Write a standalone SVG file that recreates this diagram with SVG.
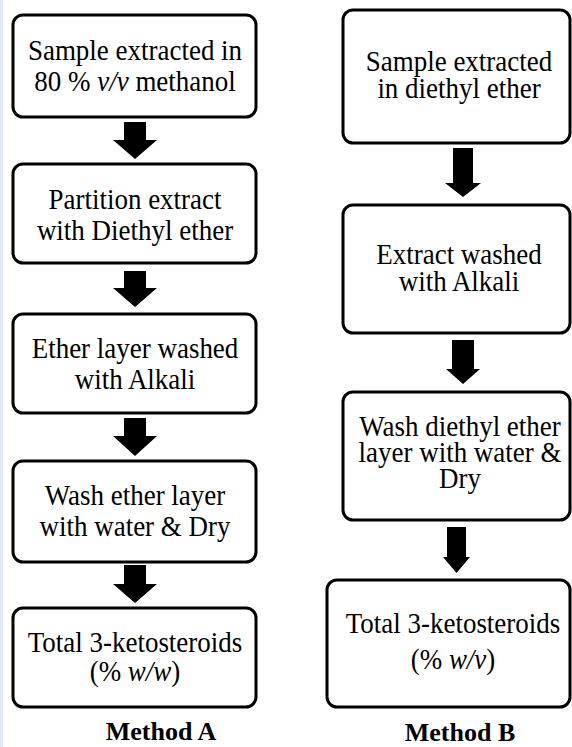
<svg xmlns="http://www.w3.org/2000/svg" width="572" height="747" viewBox="0 0 572 747">
<style>
.box{fill:#fff;stroke:#000;stroke-width:3}
.t{font-family:'Liberation Serif','DejaVu Serif',serif;font-size:29px;text-anchor:middle;fill:#000}
.i{font-style:italic}
.lbl{font-family:'Liberation Serif','DejaVu Serif',serif;font-size:26px;font-weight:bold;text-anchor:middle;fill:#000}
.arr{fill:#000}
</style>
<rect x="0" y="0" width="572" height="747" fill="#fff"/>
<rect x="0" y="0" width="3" height="747" fill="#dfe8f5"/>

<g id="connectors">
<polygon class="arr" points="124,122 146,122 146,140 157,140 135,159 113,140 124,140"/>
<polygon class="arr" points="124,271 146,271 146,288 157,288 135,307 113,288 124,288"/>
<polygon class="arr" points="124,418 146,418 146,436 157,436 135,456 113,436 124,436"/>
<polygon class="arr" points="124,565 146,565 146,584 157,584 135,603 113,584 124,584"/>
<polygon class="arr" points="453,148 473,148 473,183 481,183 463,197 445,183 453,183"/>
<polygon class="arr" points="452,340 474,340 474,369 480,369 463,384 446,369 452,369"/>
<polygon class="arr" points="447,527 466,527 466,557 470,557 456.5,573 443,557 447,557"/>
</g>

<g id="a1">
<rect class="box" x="13" y="15" width="243" height="102" rx="10"/>
<text class="t" transform="translate(135 60) scale(0.93 1)">Sample extracted in</text>
<text class="t" transform="translate(135 91) scale(0.93 1)">80 % <tspan class="i">v/v</tspan> methanol</text>
</g>
<g id="a2">
<rect class="box" x="13" y="164" width="243" height="99" rx="10"/>
<text class="t" transform="translate(135 209) scale(0.93 1)">Partition extract</text>
<text class="t" transform="translate(135 240) scale(0.93 1)">with Diethyl ether</text>
</g>
<g id="a3">
<rect class="box" x="13" y="314" width="243" height="99" rx="10"/>
<text class="t" transform="translate(135 358) scale(0.93 1)">Ether layer washed</text>
<text class="t" transform="translate(135 389) scale(0.93 1)">with Alkali</text>
</g>
<g id="a4">
<rect class="box" x="13" y="461" width="243" height="101" rx="10"/>
<text class="t" transform="translate(135 505) scale(0.93 1)">Wash ether layer</text>
<text class="t" transform="translate(135 536) scale(0.93 1)">with water &amp; Dry</text>
</g>
<g id="a5">
<rect class="box" x="13" y="608" width="243" height="99" rx="10"/>
<text class="t" transform="translate(135 652) scale(0.93 1)">Total 3-ketosteroids</text>
<text class="t" transform="translate(135 681) scale(0.93 1)">(% <tspan class="i">w/w</tspan>)</text>
</g>

<g id="b1">
<rect class="box" x="343" y="10" width="227" height="133" rx="10"/>
<text class="t" transform="translate(459 71) scale(0.93 1)">Sample extracted</text>
<text class="t" transform="translate(459 98) scale(0.93 1)">in diethyl ether</text>
</g>
<g id="b2">
<rect class="box" x="343" y="205" width="227" height="128" rx="10"/>
<text class="t" transform="translate(459 264) scale(0.93 1)">Extract washed</text>
<text class="t" transform="translate(459 291) scale(0.93 1)">with Alkali</text>
</g>
<g id="b3">
<rect class="box" x="343" y="392" width="227" height="128" rx="10"/>
<text class="t" transform="translate(460 436) scale(0.93 1)">Wash diethyl ether</text>
<text class="t" transform="translate(460 462) scale(0.93 1)">layer with water &amp;</text>
<text class="t" transform="translate(460 488) scale(0.93 1)">Dry</text>
</g>
<g id="b4">
<rect class="box" x="327" y="580" width="243" height="127" rx="10"/>
<text class="t" transform="translate(453 633) scale(0.93 1)">Total 3-ketosteroids</text>
<text class="t" transform="translate(453 669) scale(0.93 1)">(% <tspan class="i">w/v</tspan>)</text>
</g>

<text class="lbl" x="161" y="740">Method A</text>
<text class="lbl" x="460" y="741">Method B</text>
</svg>
